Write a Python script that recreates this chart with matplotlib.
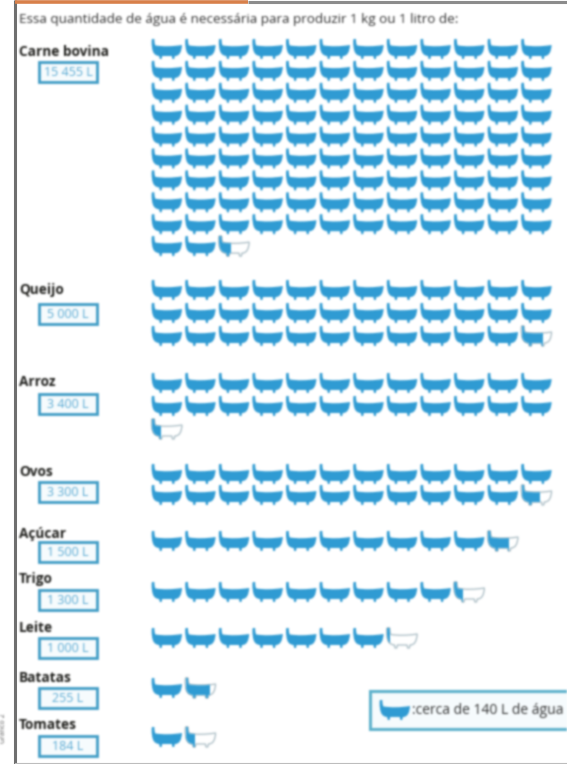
"""Pictogram: water needed per kg or litre of food, one bathtub = 140 L."""

import matplotlib

matplotlib.use("Agg")
import matplotlib.pyplot as plt
import numpy as np
from matplotlib.patches import PathPatch, Rectangle
from matplotlib.path import Path
from matplotlib.transforms import Affine2D

FOODS = ["Carne bovina", "Queijo", "Arroz", "Ovos", "Açúcar", "Trigo", "Leite", "Batatas", "Tomates"]
LITRES = ["15 455 L", "5 000 L", "3 400 L", "3 300 L", "1 500 L", "1 300 L", "1 000 L", "255 L", "184 L"]
TUBS = [110.4, 35.7, 24.3, 23.6, 10.7, 9.3, 7.1, 1.8, 1.3]

# layout, in reference pixels
LABEL_Y = [52, 290, 382, 472, 534, 579, 628, 678, 725]
BOX_Y = [72, 314, 404, 492, 552, 600, 648, 698, 746]
FIRST_ROW_Y = [49, 290, 383, 474, 541, 592, 638, 688, 737]
ROW_GAP = [21.9, 23, 23, 21, 0, 0, 0, 0, 0]
PER_ROW = 12
TUB_X0 = 152
TUB_PITCH = 33.6
TUB_W = 30
TUB_H = 20

BLUE = "#2f9bd3"
BOX_BLUE = "#3f9cc6"
TEXT_BLUE = "#5aaad3"
DARK = "#1f1f1c"

plt.rcParams["font.family"] = ["Open Sans", "DejaVu Sans"]

TUB_BODY = Path(
    [(0.00, 0.00), (0.08, 0.00), (0.07, 0.18), (0.11, 0.32), (0.50, 0.42), (1.00, 0.30),
     (0.98, 0.84), (0.78, 0.85), (0.76, 0.85), (0.74, 1.00), (0.68, 1.00), (0.66, 0.85),
     (0.34, 0.85), (0.32, 1.00), (0.26, 1.00), (0.24, 0.85), (0.02, 0.84), (0.00, 0.40),
     (-0.03, 0.15), (0.00, 0.00), (0.00, 0.00)],
    [Path.MOVETO, Path.LINETO, Path.CURVE3, Path.LINETO, Path.CURVE3, Path.CURVE3,
     Path.CURVE3, Path.CURVE3, Path.LINETO, Path.LINETO, Path.LINETO, Path.LINETO,
     Path.LINETO, Path.LINETO, Path.LINETO, Path.LINETO, Path.CURVE3, Path.CURVE3,
     Path.CURVE3, Path.CURVE3, Path.CLOSEPOLY],
)


def soften(image, dpi, pad=4):
    # the source is a low resolution scan, so everything gets a small blur
    padded = np.pad(image, ((pad, pad), (pad, pad), (0, 0)))
    alpha = padded[..., 3:]
    work = np.concatenate([padded[..., :3] * alpha, alpha], axis=2)
    kernel = np.array([0.06, 0.24, 0.40, 0.24, 0.06])
    for axis in (0, 1):
        work = np.apply_along_axis(lambda line: np.convolve(line, kernel, mode="same"), axis, work)
    out_alpha = np.clip(work[..., 3:], 0, 1)
    rgb = np.where(out_alpha > 1e-4, work[..., :3] / np.maximum(out_alpha, 1e-4), 0)
    return np.clip(np.concatenate([rgb, out_alpha], axis=2), 0, 1), -pad, -pad


def add_tub(ax, x, y, fraction=1.0, width=TUB_W, height=TUB_H):
    placed = Affine2D().scale(width, height).translate(x, y - height / 2) + ax.transData
    if fraction < 1:
        outline = PathPatch(TUB_BODY, facecolor="white", edgecolor="#a9bcc4", linewidth=0.9, transform=placed)
        outline.set_agg_filter(soften)
        ax.add_patch(outline)
    tub = PathPatch(TUB_BODY, facecolor=BLUE, edgecolor="none", transform=placed)
    tub.set_agg_filter(soften)
    ax.add_patch(tub)
    if fraction < 1:
        # add_patch resets the clip, so it goes on afterwards
        tub.set_clip_path(Rectangle((x, y - height), width * fraction, height * 2, transform=ax.transData))


def add_text(ax, x, y, label, **kwargs):
    text = ax.text(x, y, label, va="center", **kwargs)
    text.set_agg_filter(soften)
    return text


def add_box(ax, x, y, width, height, edge, lw):
    box = Rectangle((x, y), width, height, facecolor="#f6fbfd", edgecolor=edge, linewidth=lw)
    box.set_agg_filter(soften)
    ax.add_patch(box)


def main():
    fig = plt.figure(figsize=(5.67, 7.64), dpi=100)
    ax = fig.add_axes([0, 0, 1, 1])
    ax.set_xlim(0, 567)
    ax.set_ylim(764, 0)
    ax.axis("off")

    ax.plot([14.5, 14.5], [0, 764], color="#6f6f6f", lw=2.2, solid_capstyle="butt")
    ax.plot([14.5, 248], [1.5, 1.5], color="#d8804a", lw=2.6, solid_capstyle="butt")
    ax.plot([248, 567], [1.5, 1.5], color="#8c8c8c", lw=2.2, solid_capstyle="butt")
    ax.plot([15, 567], [763, 763], color="#bdbdbd", lw=0.8)

    add_text(ax, 19, 20, "Essa quantidade de água é necessária para produzir 1 kg ou 1 litro de:",
             fontsize=9.7, color="#333333")
    add_text(ax, 4, 728, "Gráfico 2", fontsize=5, color="#555555", rotation=90, ha="center")

    for i, food in enumerate(FOODS):
        add_text(ax, 19, LABEL_Y[i], food, fontsize=9.8, fontweight="bold", color=DARK)
        add_box(ax, 39, BOX_Y[i] - 10, 58, 20, BOX_BLUE, 2.0)
        add_text(ax, 68, BOX_Y[i], LITRES[i], fontsize=9, color=TEXT_BLUE, ha="center")

        whole = int(TUBS[i])
        fraction = TUBS[i] - whole
        total = whole + 1 if fraction > 0 else whole
        for n in range(total):
            row, col = divmod(n, PER_ROW)
            x = TUB_X0 + col * TUB_PITCH
            y = FIRST_ROW_Y[i] + row * ROW_GAP[i]
            add_tub(ax, x, y, 1.0 if n < whole else fraction)

    add_box(ax, 370, 691, 210, 38, "#5fb2cd", 2.2)
    add_tub(ax, 380, 710)
    add_text(ax, 412, 710, ":cerca de 140 L de água", fontsize=10, color="#333333")

    fig.savefig("out.png", dpi=100)
    plt.close(fig)


if __name__ == "__main__":
    main()
